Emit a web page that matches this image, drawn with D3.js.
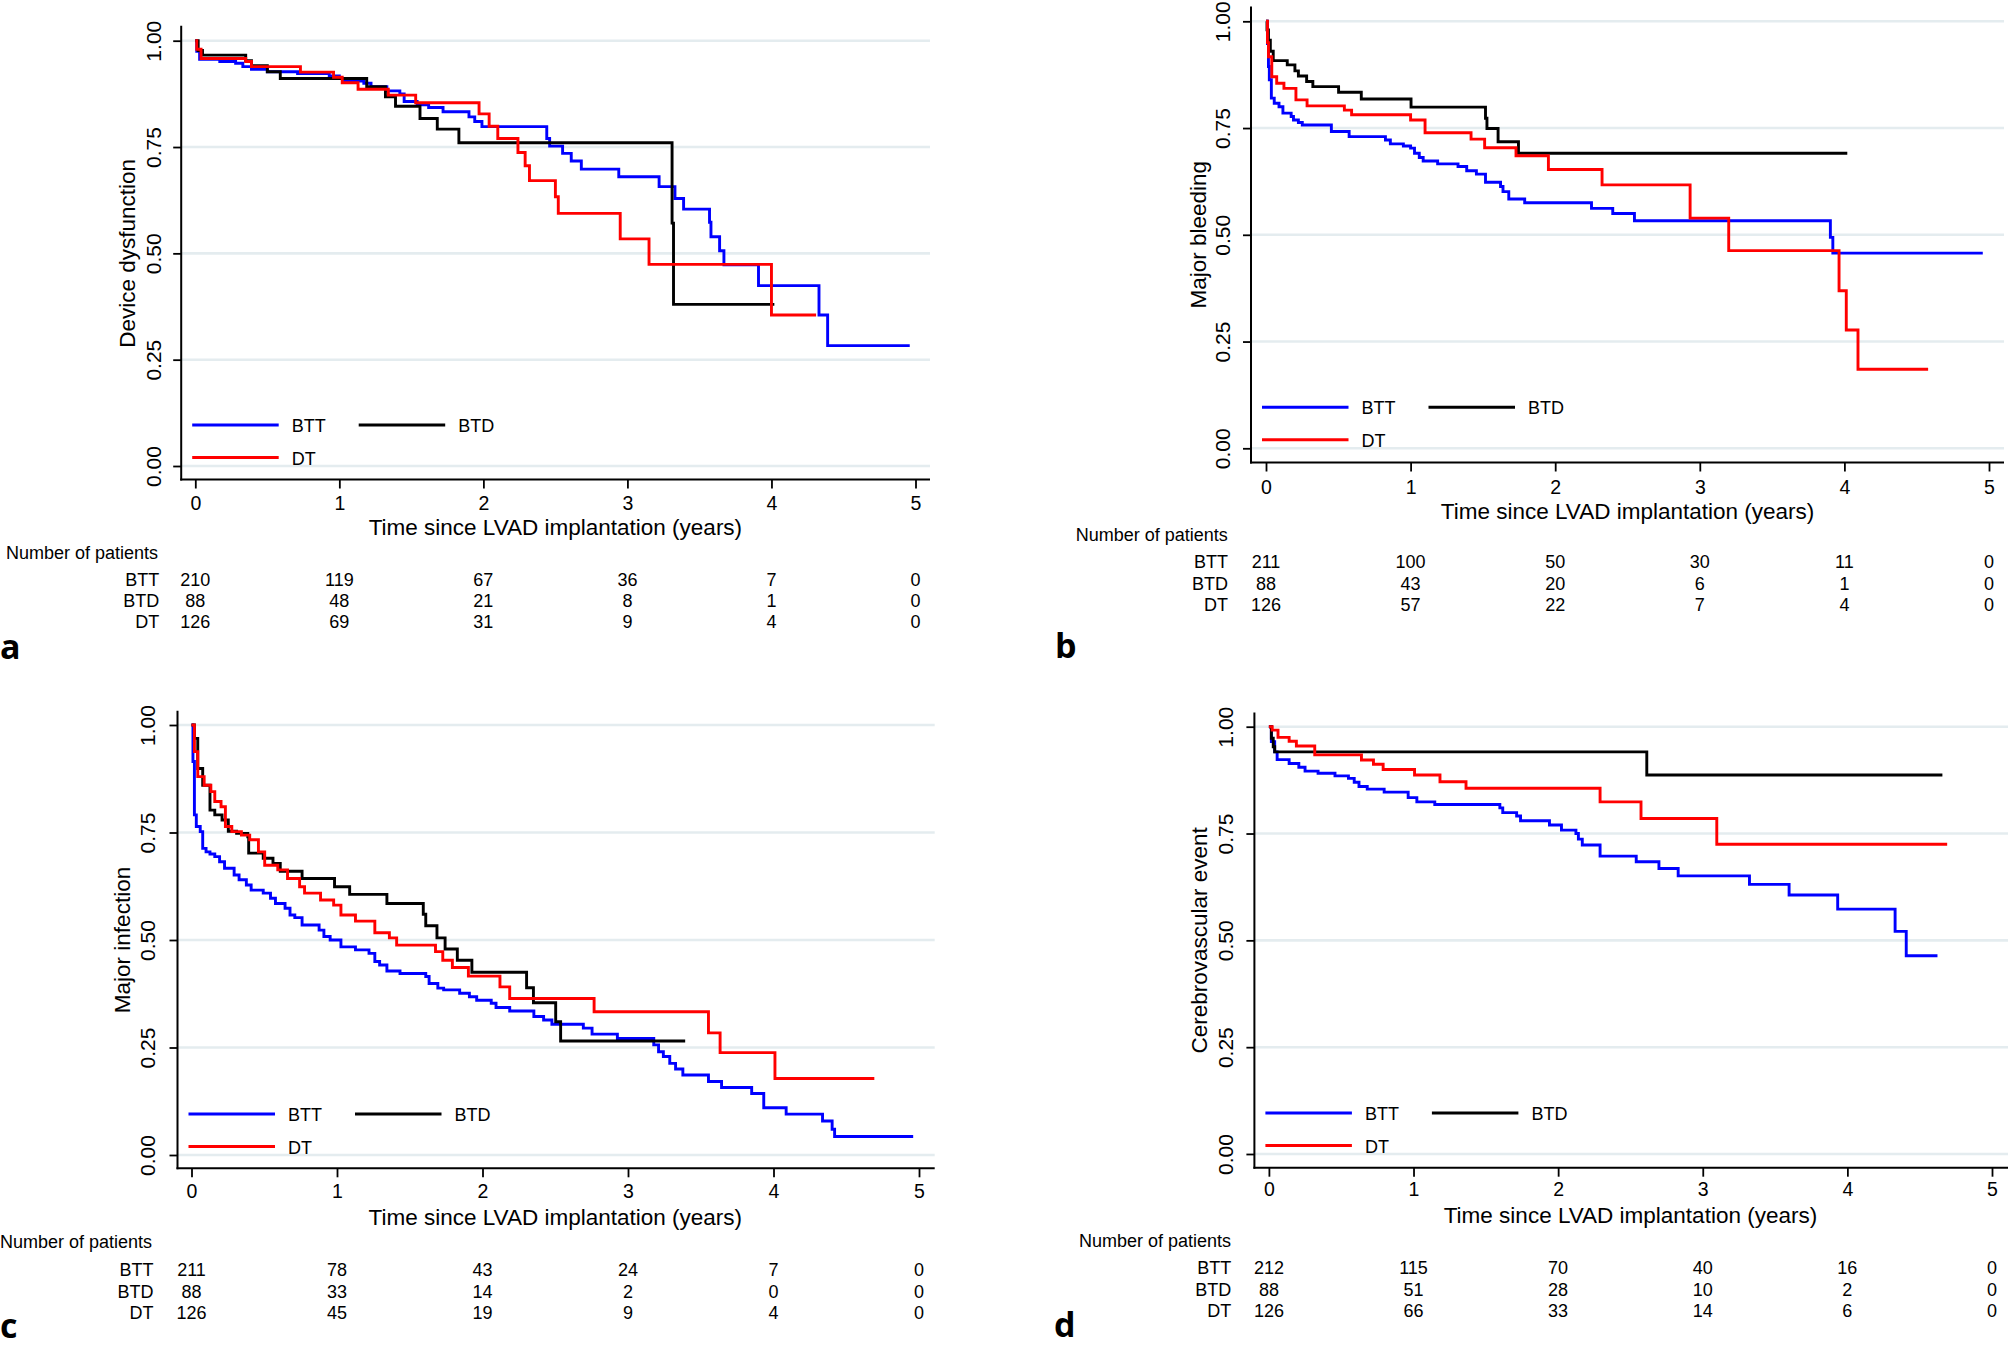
<!DOCTYPE html>
<html>
<head>
<meta charset="utf-8">
<script src="https://cdn.jsdelivr.net/npm/d3@7"></script>
<style>
  body { margin: 0; background: #ffffff; }
  text { font-family: "Liberation Sans", Arial, sans-serif; fill: #000000; }
</style>
</head>
<body>
<div id="figure"></div>
<script>
// ---------------------- data ---------------------
var groups = ["BTT", "BTD", "DT"];
var xTicks = [0, 1, 2, 3, 4, 5];
var yTicks = [0, 0.25, 0.5, 0.75, 1];
var panelLetters = ["a", "b", "c", "d"];
var yTitles = ["Device dysfunction", "Major bleeding", "Major infection", "Cerebrovascular event"];
var xTitle = "Time since LVAD implantation (years)";

// Kaplan-Meier steps: [years, estimate]
var kmA_BTT = [[0,1],[0.01,0.975],[0.03,0.956],[0.17,0.951],[0.28,0.947],[0.33,0.939],[0.39,0.933],[0.5,0.927],[0.71,0.923],[0.93,0.917],[1.0,0.911],[1.03,0.905],[1.17,0.9],[1.22,0.892],[1.33,0.882],[1.42,0.875],[1.45,0.857],[1.54,0.849],[1.62,0.843],[1.72,0.833],[1.9,0.821],[1.94,0.81],[1.99,0.798],[2.44,0.77],[2.46,0.752],[2.55,0.735],[2.61,0.717],[2.68,0.698],[2.94,0.68],[3.22,0.657],[3.33,0.629],[3.39,0.604],[3.57,0.573],[3.58,0.539],[3.64,0.506],[3.67,0.473],[3.91,0.424],[4.33,0.355],[4.39,0.283],[4.96,0.283]];
var kmA_BTD = [[0,1],[0.02,0.977],[0.05,0.966],[0.35,0.953],[0.39,0.941],[0.5,0.927],[0.59,0.911],[1.19,0.892],[1.32,0.868],[1.39,0.846],[1.56,0.817],[1.68,0.792],[1.83,0.76],[3.31,0.571],[3.32,0.38],[4.02,0.38]];
var kmA_DT = [[0,1],[0.01,0.98],[0.04,0.958],[0.35,0.951],[0.39,0.939],[0.73,0.926],[0.96,0.914],[1.02,0.901],[1.13,0.886],[1.34,0.872],[1.53,0.854],[1.97,0.828],[2.04,0.799],[2.1,0.77],[2.24,0.737],[2.29,0.706],[2.32,0.671],[2.5,0.633],[2.52,0.594],[2.95,0.534],[3.15,0.474],[4.0,0.355],[4.31,0.355]];

var kmB_BTT = [[0,1],[0.01,0.948],[0.017,0.894],[0.023,0.863],[0.037,0.82],[0.057,0.808],[0.09,0.8],[0.117,0.785],[0.174,0.777],[0.19,0.769],[0.224,0.763],[0.251,0.757],[0.452,0.742],[0.575,0.73],[0.826,0.722],[0.86,0.713],[0.95,0.708],[1.0,0.703],[1.027,0.691],[1.06,0.681],[1.087,0.673],[1.187,0.666],[1.328,0.66],[1.388,0.65],[1.455,0.642],[1.518,0.623],[1.622,0.613],[1.639,0.601],[1.679,0.584],[1.789,0.575],[2.251,0.562],[2.398,0.55],[2.548,0.533],[3.903,0.494],[3.92,0.457],[4.957,0.457]];
var kmB_BTD = [[0,1],[0.007,0.98],[0.017,0.956],[0.03,0.93],[0.05,0.908],[0.147,0.898],[0.2,0.884],[0.224,0.872],[0.281,0.859],[0.324,0.847],[0.502,0.834],[0.659,0.818],[1.003,0.799],[1.518,0.773],[1.528,0.749],[1.605,0.718],[1.746,0.691],[4.02,0.691]];
var kmB_DT = [[0,1],[0.01,0.95],[0.017,0.917],[0.04,0.87],[0.074,0.855],[0.124,0.843],[0.207,0.816],[0.284,0.802],[0.542,0.792],[0.592,0.781],[1.0,0.769],[1.1,0.739],[1.418,0.724],[1.512,0.704],[1.729,0.685],[1.953,0.653],[2.324,0.617],[2.933,0.539],[3.2,0.463],[3.963,0.369],[4.013,0.277],[4.094,0.185],[4.579,0.185]];

var kmC_BTT = [[0,1],[0.01,0.915],[0.02,0.791],[0.033,0.764],[0.06,0.752],[0.077,0.713],[0.1,0.705],[0.127,0.7],[0.16,0.694],[0.193,0.682],[0.227,0.667],[0.293,0.651],[0.327,0.64],[0.377,0.628],[0.41,0.616],[0.493,0.609],[0.543,0.597],[0.577,0.585],[0.643,0.574],[0.677,0.558],[0.71,0.552],[0.76,0.535],[0.877,0.523],[0.91,0.508],[0.953,0.5],[1.027,0.484],[1.127,0.477],[1.22,0.469],[1.26,0.45],[1.293,0.442],[1.343,0.428],[1.433,0.422],[1.61,0.415],[1.633,0.399],[1.693,0.388],[1.733,0.384],[1.843,0.376],[1.91,0.368],[1.96,0.36],[2.06,0.353],[2.093,0.343],[2.187,0.335],[2.353,0.322],[2.42,0.314],[2.477,0.304],[2.693,0.295],[2.753,0.281],[2.927,0.271],[3.177,0.256],[3.21,0.24],[3.243,0.229],[3.287,0.213],[3.327,0.2],[3.377,0.186],[3.553,0.171],[3.643,0.157],[3.85,0.143],[3.933,0.11],[4.087,0.095],[4.337,0.079],[4.403,0.06],[4.42,0.043],[4.96,0.043]];
var kmC_BTD = [[0,1],[0.02,0.969],[0.043,0.899],[0.077,0.86],[0.127,0.802],[0.16,0.791],[0.21,0.779],[0.253,0.753],[0.31,0.748],[0.387,0.74],[0.393,0.702],[0.493,0.69],[0.56,0.678],[0.61,0.66],[0.76,0.643],[0.983,0.624],[1.087,0.606],[1.343,0.585],[1.593,0.56],[1.61,0.533],[1.687,0.505],[1.743,0.479],[1.827,0.453],[1.927,0.425],[2.303,0.389],[2.35,0.354],[2.503,0.31],[2.537,0.265],[3.393,0.265]];
var kmC_DT = [[0,1],[0.02,0.938],[0.043,0.88],[0.087,0.86],[0.133,0.845],[0.16,0.822],[0.203,0.81],[0.233,0.764],[0.277,0.752],[0.343,0.744],[0.4,0.733],[0.46,0.705],[0.503,0.674],[0.593,0.663],[0.66,0.643],[0.743,0.624],[0.777,0.609],[0.887,0.593],[0.977,0.581],[1.027,0.558],[1.127,0.544],[1.26,0.517],[1.36,0.505],[1.41,0.488],[1.677,0.473],[1.727,0.453],[1.793,0.436],[1.903,0.416],[2.12,0.391],[2.187,0.364],[2.767,0.333],[3.553,0.284],[3.633,0.238],[4.01,0.178],[4.693,0.178]];

var kmD_BTT = [[0,1],[0.017,0.965],[0.04,0.941],[0.057,0.923],[0.14,0.914],[0.207,0.905],[0.25,0.896],[0.34,0.891],[0.457,0.885],[0.55,0.879],[0.59,0.87],[0.623,0.86],[0.68,0.854],[0.797,0.847],[0.963,0.834],[1.023,0.824],[1.147,0.818],[1.597,0.81],[1.617,0.799],[1.713,0.791],[1.74,0.78],[1.94,0.77],[2.023,0.758],[2.123,0.75],[2.14,0.737],[2.167,0.723],[2.29,0.697],[2.54,0.684],[2.697,0.668],[2.83,0.651],[3.323,0.631],[3.597,0.606],[3.933,0.573],[4.33,0.521],[4.407,0.464],[4.623,0.464]];
var kmD_BTD = [[0,1],[0.017,0.973],[0.03,0.953],[0.04,0.941],[2.613,0.887],[4.657,0.887]];
var kmD_DT = [[0,1],[0.023,0.992],[0.063,0.975],[0.14,0.966],[0.19,0.955],[0.317,0.934],[0.64,0.922],[0.723,0.912],[0.79,0.9],[1.007,0.887],[1.183,0.871],[1.363,0.856],[2.29,0.824],[2.573,0.785],[3.097,0.725],[4.69,0.725]];

// number at risk at 0..5 years
var riskA_BTT = [210, 119, 67, 36, 7, 0];
var riskA_BTD = [88, 48, 21, 8, 1, 0];
var riskA_DT = [126, 69, 31, 9, 4, 0];
var riskB_BTT = [211, 100, 50, 30, 11, 0];
var riskB_BTD = [88, 43, 20, 6, 1, 0];
var riskB_DT = [126, 57, 22, 7, 4, 0];
var riskC_BTT = [211, 78, 43, 24, 7, 0];
var riskC_BTD = [88, 33, 14, 2, 0, 0];
var riskC_DT = [126, 45, 19, 9, 4, 0];
var riskD_BTT = [212, 115, 70, 40, 16, 0];
var riskD_BTD = [88, 51, 28, 10, 2, 0];
var riskD_DT = [126, 66, 33, 14, 6, 0];

var curves = [[kmA_BTT, kmA_BTD, kmA_DT], [kmB_BTT, kmB_BTD, kmB_DT],
              [kmC_BTT, kmC_BTD, kmC_DT], [kmD_BTT, kmD_BTD, kmD_DT]];
var risks = [[riskA_BTT, riskA_BTD, riskA_DT], [riskB_BTT, riskB_BTD, riskB_DT],
             [riskC_BTT, riskC_BTD, riskC_DT], [riskD_BTT, riskD_BTD, riskD_DT]];

var colours = ["#0000ff", "#000000", "#ff0000"];

// ---------------------- layout of the four panels (pixels) ---------------------
var panels = [
  { axX: 181.2, x0: 195.3, x5: 915.5, y1: 40.7, y0: 466, axY: 479.5, axTop: 25.7, axRight: 930,
    ylabX: 153.5, ytitX: 128, tickBase: 510, titBase: 535, nopX: 6, nopBase: 559.3,
    rows: [586, 607.3, 628.3], rowRight: 159.3, letX: 0, letBase: 659 },
  { axX: 1251, x0: 1266, x5: 1989, y1: 21.3, y0: 448.3, axY: 462.5, axTop: 6.4, axRight: 2004,
    ylabX: 1222, ytitX: 1199, tickBase: 493.5, titBase: 518.5, nopX: 1075.7, nopBase: 541.3,
    rows: [568, 589.5, 611], rowRight: 1228, letX: 1055, letBase: 658 },
  { axX: 177.5, x0: 191.5, x5: 919, y1: 725, y0: 1155, axY: 1168.3, axTop: 710.8, axRight: 934.7,
    ylabX: 147.5, ytitX: 123, tickBase: 1198, titBase: 1225, nopX: 0, nopBase: 1248,
    rows: [1276, 1297.5, 1319], rowRight: 153.6, letX: 0, letBase: 1338 },
  { axX: 1254.4, x0: 1268.9, x5: 1992, y1: 726.7, y0: 1154, axY: 1167.7, axTop: 712.5, axRight: 2008,
    ylabX: 1225.5, ytitX: 1199.5, tickBase: 1196, titBase: 1223, nopX: 1079, nopBase: 1247,
    rows: [1274.3, 1295.8, 1316.8], rowRight: 1231.3, letX: 1054, letBase: 1337 }
];

var svg = d3.select("#figure")
     .append("svg")
     .attr("width", 2008)
     .attr("height", 1347)
     .style("display", "block");

svg.append("rect")
     .attr("width", 2008)
     .attr("height", 1347)
     .attr("fill", "#ffffff");

panels.forEach(function (p, i) {
  var g = svg.append("g");

  var x = d3.scaleLinear().domain([0, 5]).range([p.x0, p.x5]);
  var y = d3.scaleLinear().domain([0, 1]).range([p.y0, p.y1]);

  // ---------------------- grid lines ---------------------
  g.selectAll("line.grid")
     .data(yTicks)
     .enter()
     .append("line")
     .attr("class", "grid")
     .attr("x1", p.axX)
     .attr("x2", p.axRight)
     .attr("y1", function (d) { return y(d); })
     .attr("y2", function (d) { return y(d); })
     .attr("stroke", "#e4ecef")
     .attr("stroke-width", 2.6);

  // ---------------------- axes ---------------------
  var gy = g.append("g")
     .attr("transform", "translate(" + p.axX + ",0)")
     .call(d3.axisLeft(y).tickValues(yTicks).tickFormat(d3.format(".2f")).tickSize(8).tickSizeOuter(0));
  gy.select(".domain").remove();
  gy.selectAll(".tick line").attr("stroke", "#000").attr("stroke-width", 1.8);
  gy.selectAll(".tick text")
     .attr("x", null)
     .attr("dy", "0.36em")
     .attr("text-anchor", "middle")
     .attr("transform", "translate(" + (p.ylabX - p.axX) + ",0) rotate(-90)")
     .style("font-size", "21px")
     .attr("fill", "#000");

  var gx = g.append("g")
     .attr("transform", "translate(0," + p.axY + ")")
     .call(d3.axisBottom(x).tickValues(xTicks).tickFormat(d3.format("d")).tickSize(9).tickSizeOuter(0));
  gx.select(".domain").remove();
  gx.selectAll(".tick line").attr("stroke", "#000").attr("stroke-width", 1.8);
  gx.selectAll(".tick text")
     .attr("y", p.tickBase - p.axY)
     .attr("dy", 0)
     .style("font-size", "19.5px")
     .attr("fill", "#000");

  g.append("line")
     .attr("x1", p.axX).attr("x2", p.axX)
     .attr("y1", p.axTop).attr("y2", p.axY + 1)
     .attr("stroke", "#000").attr("stroke-width", 2);
  g.append("line")
     .attr("x1", p.axX - 1).attr("x2", p.axRight)
     .attr("y1", p.axY).attr("y2", p.axY)
     .attr("stroke", "#000").attr("stroke-width", 2);

  // ---------------------- curves ---------------------
  var line = d3.line()
     .x(function (d) { return x(d[0]); })
     .y(function (d) { return y(d[1]); })
     .curve(d3.curveStepAfter);

  g.selectAll("path.km")
     .data(curves[i])
     .enter()
     .append("path")
     .attr("class", "km")
     .attr("d", line)
     .attr("fill", "none")
     .attr("stroke", function (d, k) { return colours[k]; })
     .attr("stroke-width", 2.9);

  // ---------------------- legend ---------------------
  var legX = p.axX + 11;
  var legPos = [[legX, y(0) - 41], [legX + 166.5, y(0) - 41], [legX, y(0) - 8.5]];
  groups.forEach(function (name, k) {
    g.append("line")
       .attr("x1", legPos[k][0]).attr("x2", legPos[k][0] + 86.5)
       .attr("y1", legPos[k][1]).attr("y2", legPos[k][1])
       .attr("stroke", colours[k]).attr("stroke-width", 2.9);
    g.append("text")
       .text(name)
       .attr("x", legPos[k][0] + 99.5)
       .attr("y", legPos[k][1] + 7)
       .style("font-size", "18px");
  });

  // ---------------------- titles ---------------------
  g.append("text")
     .text(yTitles[i])
     .attr("text-anchor", "middle")
     .attr("dy", "0.33em")
     .attr("transform", "translate(" + p.ytitX + "," + ((p.y0 + p.y1) / 2) + ") rotate(-90)")
     .style("font-size", "22.5px");

  g.append("text")
     .text(xTitle)
     .attr("text-anchor", "middle")
     .attr("x", (p.x0 + p.x5) / 2)
     .attr("y", p.titBase)
     .style("font-size", "22.5px");

  // ---------------------- number at risk ---------------------
  g.append("text")
     .text("Number of patients")
     .attr("x", p.nopX)
     .attr("y", p.nopBase)
     .style("font-size", "18px");

  groups.forEach(function (name, k) {
    g.append("text")
       .text(name)
       .attr("text-anchor", "end")
       .attr("x", p.rowRight)
       .attr("y", p.rows[k])
       .style("font-size", "18px");
    g.selectAll("text.risk" + k)
       .data(risks[i][k])
       .enter()
       .append("text")
       .attr("class", "risk" + k)
       .text(function (d) { return d; })
       .attr("text-anchor", "middle")
       .attr("x", function (d, j) { return x(xTicks[j]); })
       .attr("y", p.rows[k])
       .style("font-size", "18px");
  });

  g.append("text")
     .text(panelLetters[i])
     .attr("x", p.letX)
     .attr("y", p.letBase)
     .style("font-family", "'Open Sans', 'Liberation Sans', sans-serif")
     .style("font-weight", "bold")
     .style("font-size", "34px");
});
</script>
</body>
</html>
